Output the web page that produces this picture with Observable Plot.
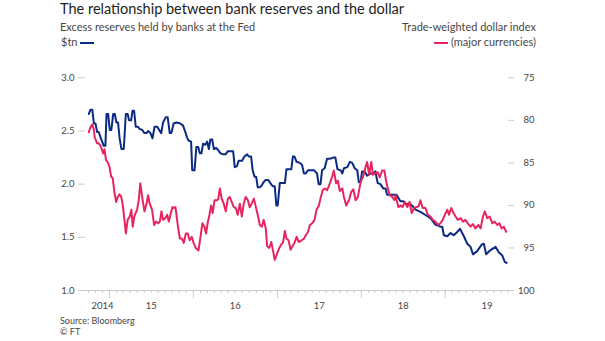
<!DOCTYPE html>
<html><head><meta charset="utf-8">
<script src="https://cdn.jsdelivr.net/npm/d3@7"></script>
<script src="https://cdn.jsdelivr.net/npm/@observablehq/plot@0.6"></script>
<style>
html,body{margin:0;padding:0;background:#fff;}
#wrap{position:relative;width:605px;height:341px;overflow:hidden;font-family:Lato,"Noto Sans",sans-serif;background:#fff;}
.t{position:absolute;white-space:nowrap;line-height:1;}
.sw{display:inline-block;width:14px;height:2px;vertical-align:middle;position:relative;top:-1px;}
#chart{position:absolute;left:0;top:55px;}
</style></head><body>
<div id="wrap">
  <div class="t" id="title" style="left:60px;top:1.6px;font-size:14.5px;color:#1e1e1e;">The relationship between bank reserves and the dollar</div>
  <div class="t" id="subL1" style="left:60px;top:21px;font-size:11px;color:#4a4542;">Excess reserves held by banks at the Fed</div>
  <div class="t" id="subL2" style="left:61px;top:36.4px;font-size:11px;color:#4a4542;">$tn <span class="sw" id="swL"></span></div>
  <div class="t" id="subR1" style="right:69px;top:21px;font-size:11px;color:#4a4542;">Trade-weighted dollar index</div>
  <div class="t" id="subR2" style="right:69px;top:36.4px;font-size:11px;color:#4a4542;"><span class="sw" id="swR"></span> (major currencies)</div>
  <div id="chart"></div>
  <div class="t" id="src" style="left:60px;top:316px;font-size:9px;color:#4a4542;">Source: Bloomberg</div>
  <div class="t" id="cr" style="left:60px;top:327px;font-size:9px;color:#4a4542;">© FT</div>
</div>
<script>
// ---- data ----
const reserveDates = ["2014-10-03","2014-10-10","2014-10-18","2014-10-25","2014-11-01","2014-11-08","2014-11-15","2014-11-23","2014-11-30","2014-12-07","2014-12-14","2014-12-19","2014-12-26",
"2015-01-02","2015-01-09","2015-01-17","2015-01-24","2015-01-31","2015-02-07","2015-02-14","2015-02-22","2015-03-04","2015-03-13","2015-03-21","2015-03-27","2015-04-05","2015-04-11","2015-04-18","2015-04-25","2015-05-04","2015-05-12","2015-05-23","2015-06-02","2015-06-11","2015-06-18","2015-06-28","2015-07-07","2015-07-16","2015-07-28","2015-08-05","2015-08-14","2015-08-22","2015-09-03","2015-09-11","2015-09-20","2015-09-27","2015-10-07","2015-10-19","2015-11-05","2015-11-17","2015-11-27","2015-12-04","2015-12-11","2015-12-22","2015-12-27",
"2016-01-06","2016-01-14","2016-01-22","2016-01-29","2016-02-05","2016-02-12","2016-02-22","2016-03-01","2016-03-08","2016-03-15","2016-03-23","2016-03-30","2016-04-09","2016-04-18","2016-04-28","2016-05-10","2016-05-20","2016-05-30","2016-06-10","2016-06-22","2016-06-29","2016-07-09","2016-07-16","2016-07-31","2016-08-10","2016-08-22","2016-08-29","2016-09-08","2016-09-15","2016-09-23","2016-09-30","2016-10-07","2016-10-16","2016-10-25","2016-11-02","2016-11-11","2016-11-21","2016-12-01","2016-12-11","2016-12-20","2016-12-27",
"2017-01-02","2017-01-11","2017-01-23","2017-02-02","2017-02-09","2017-03-02","2017-03-09","2017-03-16","2017-03-25","2017-04-08","2017-04-18","2017-04-26","2017-05-03","2017-05-14","2017-05-27","2017-06-10","2017-06-22","2017-06-29","2017-07-07","2017-07-14","2017-07-25","2017-08-05","2017-08-19","2017-09-02","2017-09-10","2017-09-19","2017-10-03","2017-10-10","2017-10-17","2017-11-01","2017-11-12","2017-11-22","2017-12-03","2017-12-14","2017-12-21","2017-12-29",
"2018-01-04","2018-01-15","2018-01-26","2018-02-10","2018-02-21","2018-03-03","2018-03-13","2018-03-25","2018-04-06","2018-04-16","2018-04-23","2018-05-11","2018-05-21","2018-06-03","2018-06-20","2018-07-03","2018-07-15","2018-07-29","2018-08-13","2018-08-25","2018-09-15","2018-10-07","2018-10-29","2018-11-19","2018-12-11","2018-12-19","2018-12-26",
"2019-01-10","2019-01-24","2019-02-07","2019-02-22","2019-03-06","2019-03-23","2019-04-07","2019-04-21","2019-05-02","2019-05-20","2019-06-08","2019-06-18","2019-06-28","2019-07-17","2019-08-08","2019-08-22","2019-09-06","2019-09-17","2019-09-25"];
const reserveValues = [2.66,2.70,2.70,2.57,2.57,2.49,2.49,2.44,2.40,2.36,2.36,2.66,2.66,
2.51,2.51,2.66,2.66,2.58,2.58,2.43,2.33,2.33,2.66,2.66,2.60,2.60,2.69,2.69,2.54,2.54,2.52,2.51,2.48,2.48,2.50,2.48,2.43,2.54,2.54,2.51,2.48,2.58,2.63,2.63,2.48,2.48,2.57,2.58,2.57,2.55,2.49,2.44,2.41,2.40,2.13,
2.13,2.35,2.35,2.29,2.29,2.38,2.37,2.40,2.33,2.42,2.42,2.33,2.34,2.32,2.29,2.28,2.28,2.31,2.31,2.31,2.16,2.17,2.22,2.22,2.26,2.28,2.26,2.26,2.13,2.07,2.07,1.97,1.97,1.99,2.02,2.04,2.04,2.01,1.98,1.98,1.80,
1.80,2.01,2.01,2.01,2.14,2.14,2.26,2.26,2.21,2.20,2.18,2.10,2.10,2.13,2.13,2.13,2.10,2.00,2.00,2.13,2.15,2.24,2.24,2.25,2.25,2.14,2.13,2.10,2.15,2.16,2.21,2.20,2.15,2.13,2.02,2.02,
2.12,2.12,2.08,2.10,2.10,2.12,2.01,2.00,1.96,1.96,1.90,1.90,1.90,1.90,1.84,1.84,1.81,1.82,1.79,1.76,1.74,1.71,1.68,1.62,1.60,1.60,1.52,
1.51,1.54,1.52,1.55,1.58,1.51,1.44,1.41,1.34,1.37,1.43,1.44,1.34,1.38,1.41,1.36,1.33,1.27,1.26];

const dollarDates = ["2014-10-03","2014-10-10","2014-10-18","2014-10-24","2014-10-29","2014-11-08","2014-11-15","2014-11-23","2014-11-30","2014-12-04","2014-12-10","2014-12-17","2014-12-24",
"2015-01-01","2015-01-08","2015-01-15","2015-01-22","2015-01-30","2015-02-06","2015-02-13","2015-02-20","2015-02-27","2015-03-07","2015-03-13","2015-03-21","2015-03-30","2015-04-06","2015-04-12","2015-04-19","2015-05-01","2015-05-08","2015-05-15","2015-05-24","2015-06-02","2015-06-11","2015-06-18","2015-06-25","2015-07-05","2015-07-14","2015-07-23","2015-08-01","2015-08-08","2015-08-15","2015-08-22","2015-08-31","2015-09-09","2015-09-16","2015-09-23","2015-10-02","2015-10-09","2015-10-15","2015-10-25","2015-11-03","2015-11-12","2015-11-20","2015-11-29","2015-12-07","2015-12-16","2015-12-25",
"2016-01-02","2016-01-11","2016-01-23","2016-02-01","2016-02-09","2016-02-18","2016-02-25","2016-03-03","2016-03-11","2016-03-18","2016-03-25","2016-04-02","2016-04-11","2016-04-18","2016-04-25","2016-05-03","2016-05-12","2016-05-21","2016-05-30","2016-06-07","2016-06-16","2016-06-25","2016-07-03","2016-07-12","2016-07-21","2016-07-30","2016-08-07","2016-08-16","2016-08-25","2016-09-02","2016-09-11","2016-09-20","2016-09-29","2016-10-07","2016-10-16","2016-10-25","2016-11-02","2016-11-11","2016-11-17","2016-11-26","2016-12-05","2016-12-13","2016-12-20","2016-12-31",
"2017-01-09","2017-01-17","2017-01-25","2017-02-02","2017-02-09","2017-02-18","2017-02-27","2017-03-07","2017-03-16","2017-03-25","2017-04-04","2017-04-16","2017-04-26","2017-05-04","2017-05-14","2017-05-22","2017-06-01","2017-06-11","2017-06-20","2017-06-30","2017-07-07","2017-07-17","2017-07-26","2017-08-05","2017-08-17","2017-08-27","2017-09-03","2017-09-13","2017-09-21","2017-09-29","2017-10-10","2017-10-17","2017-10-27","2017-11-08","2017-11-18","2017-11-27","2017-12-07","2017-12-17","2017-12-29",
"2018-01-09","2018-01-19","2018-01-26","2018-02-04","2018-02-13","2018-02-21","2018-03-03","2018-03-13","2018-03-22","2018-04-01","2018-04-11","2018-04-19","2018-04-26","2018-05-05","2018-05-15","2018-05-25","2018-05-30","2018-06-11","2018-06-21","2018-06-29","2018-07-09","2018-07-20","2018-07-30","2018-08-08","2018-08-18","2018-08-28","2018-09-07","2018-09-15","2018-09-25","2018-10-07","2018-10-17","2018-10-29","2018-11-08","2018-11-19","2018-12-01","2018-12-11","2018-12-21","2018-12-30",
"2019-01-10","2019-01-17","2019-01-27","2019-02-06","2019-02-15","2019-02-25","2019-03-09","2019-03-19","2019-03-30","2019-04-09","2019-04-21","2019-05-01","2019-05-13","2019-05-25","2019-06-04","2019-06-14","2019-06-22","2019-07-03","2019-07-13","2019-07-25","2019-08-04","2019-08-15","2019-08-25","2019-09-03","2019-09-13","2019-09-23"];
const dollarValues = [81.4,80.8,80.5,81.0,82.0,82.7,82.7,83.0,83.5,83.9,83.4,84.7,84.9,
85.5,86.6,86.8,88.4,89.6,89.0,88.7,88.9,89.8,91.7,93.3,91.7,91.3,90.5,92.5,91.3,90.5,89.4,87.4,89.2,90.7,89.8,88.8,89.8,90.5,92.3,91.9,92.1,91.9,90.7,91.7,91.5,91.1,91.9,91.1,90.2,90.3,90.2,92.3,93.9,93.9,94.4,93.3,93.3,94.1,93.7,
94.4,95.0,95.3,93.7,92.1,92.5,93.3,92.1,91.1,90.0,90.9,89.4,89.4,89.3,88.0,89.2,89.8,90.7,89.2,89.0,89.6,90.2,90.3,91.1,89.8,91.3,89.8,89.0,89.4,90.2,89.8,89.2,90.2,91.1,92.3,92.5,91.7,92.7,94.8,95.0,94.3,95.4,96.4,95.6,
95.0,94.6,94.4,93.0,93.9,94.1,95.2,94.8,94.4,93.7,94.3,94.1,93.9,93.5,93.1,92.3,92.1,91.7,90.5,90.0,89.2,88.2,88.0,88.2,87.4,86.6,85.9,87.4,87.1,88.3,88.0,89.0,90.0,89.4,88.4,88.1,89.4,89.0,87.2,
86.6,85.5,84.9,86.4,84.9,86.4,86.2,86.1,86.7,85.9,85.9,87.2,88.0,88.8,89.0,89.4,88.8,90.2,90.0,90.2,89.6,90.2,89.6,90.9,90.3,90.2,90.1,89.4,90.3,90.3,91.1,91.3,91.7,91.9,92.3,92.1,91.7,91.1,
90.5,91.1,90.3,90.9,91.3,91.7,91.5,91.9,91.7,92.1,92.5,92.2,92.7,92.3,92.7,91.3,90.7,91.5,91.3,92.1,91.9,92.3,92.1,92.7,92.5,93.1];

const leftTicks = [1.0, 1.5, 2.0, 2.5, 3.0];
const rightTicks = [75, 80, 85, 90, 95, 100];
const yearLabels = ["2014", "15", "16", "17", "18", "19"];
const yearLabelDates = ["2014-12-01", "2015-07-02", "2016-07-01", "2017-07-02", "2018-07-02", "2019-07-02"];
const yearStarts = ["2015-01-01", "2016-01-01", "2017-01-01", "2018-01-01", "2019-01-01"];

// ---- build ----
const parse = d3.utcParse("%Y-%m-%d");
const reserves = reserveDates.map((d, i) => ({date: parse(d), value: reserveValues[i]}));
const dollar = dollarDates.map((d, i) => ({date: parse(d), value: dollarValues[i]}));
// right axis (inverted, 75 at top, 100 at bottom) mapped onto the left scale
const toLeft = v => 3 - (v - 75) / 25 * 2;

const BLUE = "#0b2a83", PINK = "#e8245f", GRID = "#cfcac5", TXT = "#4a4542";
document.getElementById("swL").style.background = BLUE;
document.getElementById("swR").style.background = PINK;

const monthTicks = d3.utcMonth.range(parse("2014-10-01"), parse("2019-10-02"));
const years = yearStarts.map(parse);
const labels = yearLabels.map((t, i) => ({text: t, date: parse(yearLabelDates[i])}));

const chart = Plot.plot({
  width: 605,
  height: 262,
  marginLeft: 78,
  marginRight: 92,
  marginTop: 22.3,
  marginBottom: 27,
  style: {fontFamily: "Lato, 'Noto Sans', sans-serif", fontSize: "9.5px", color: TXT, background: "transparent", overflow: "visible"},
  x: {type: "utc", domain: [parse("2014-08-19"), parse("2019-10-25")], axis: null},
  y: {domain: [1, 3], axis: null},
  marks: [
    Plot.ruleY([1], {stroke: GRID, strokeWidth: 1}),
    Plot.axisX({ticks: monthTicks, tickSize: 3, tickFormat: () => "", stroke: GRID, label: null}),
    Plot.axisX({ticks: years, tickSize: 8, tickFormat: () => "", stroke: GRID, label: null}),
    Plot.text(labels, {x: "date", y: () => 1, text: "text", dy: 15.5, fill: TXT, fontSize: 9.5}),
    Plot.axisY({anchor: "left", ticks: leftTicks, tickSize: 7, dx: 7, tickPadding: 4, tickFormat: d3.format(".1f"), stroke: GRID, fill: TXT, label: null}),
    Plot.axisY({anchor: "right", ticks: rightTicks.map(toLeft), tickSize: 6, dx: -6, tickFormat: () => "", stroke: GRID, label: null}),
    Plot.text(rightTicks, {y: d => toLeft(d), frameAnchor: "right", text: d => String(d), dx: 21, textAnchor: "end", fill: TXT, fontSize: 9.5}),
    Plot.lineY(reserves, {x: "date", y: "value", stroke: BLUE, strokeWidth: 2, curve: "linear"}),
    Plot.lineY(dollar, {x: "date", y: d => toLeft(d.value), stroke: PINK, strokeWidth: 2, curve: "linear"})
  ]
});
document.getElementById("chart").appendChild(chart);
</script>
</body></html>
